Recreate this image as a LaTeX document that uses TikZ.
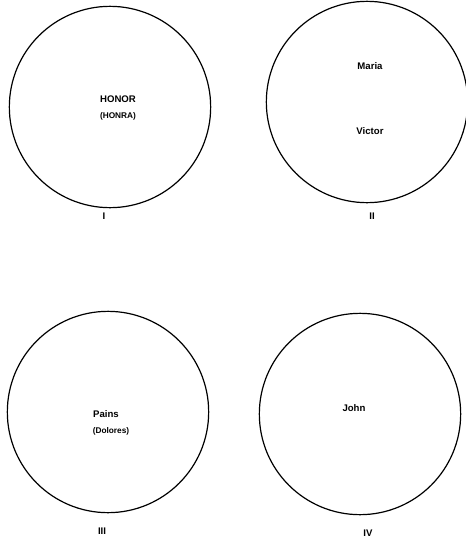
\documentclass[tikz,border=0pt]{standalone}
\usepackage{fontspec}
\setmainfont{Liberation Sans}
\usepackage{tikz}
\usetikzlibrary{positioning}

\begin{document}
\begin{tikzpicture}[
  x=0.75pt, y=-0.75pt,
  font=\fontsize{7.2}{8.6}\selectfont\bfseries,
  ring/.style={circle, draw=black, line width=0.9pt, minimum size=151pt, inner sep=0pt},
  word/.style={inner sep=1pt},
  aside/.style={inner sep=1pt, font=\fontsize{6.2}{7.4}\selectfont\bfseries},
  numeral/.style={inner sep=1pt}
]
\useasboundingbox (0,0) rectangle (465,543);

\node[ring] (circI) at (110,107) {};
\node[ring] (circII) at (367,102) {};
\node[ring] (circIII) at (108,412) {};
\node[ring] (circIV) at (360,414) {};

\node[word] (honor) at (118,99) {HONOR};
\node[aside] (honra) at (118,116) {(HONRA)};
\node[word] (maria) at (370,66) {Maria};
\node[word] (victor) at (370,131) {Victor};
\node[word] (pains) at (106,414) {Pains};
\node[aside] (dolores) at (111,431) {(Dolores)};
\node[word] (john) at (354,408) {John};

\node[numeral] (numI) at (104,216) {I};
\node[numeral] (numII) at (372,216) {II};
\node[numeral] (numIII) at (102,531) {III};
\node[numeral] (numIV) at (368,533) {IV};
\end{tikzpicture}
\end{document}
